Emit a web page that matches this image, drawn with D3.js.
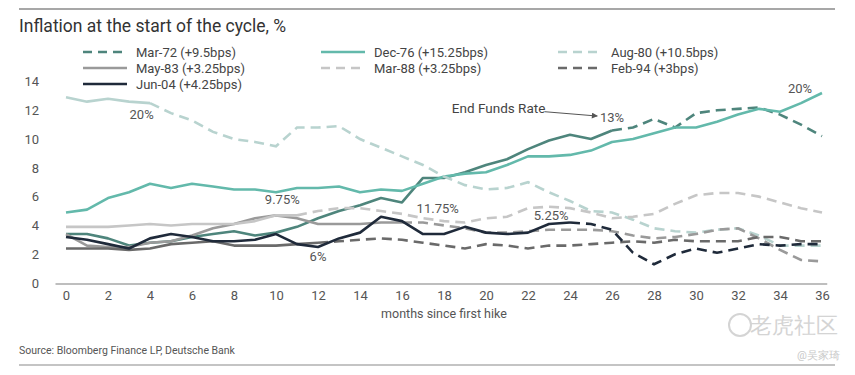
<!DOCTYPE html>
<html>
<head>
<meta charset="utf-8">
<script src="https://cdn.jsdelivr.net/npm/d3@7"></script>
<style>
  body { margin: 0; background: #fff; }
  text { font-family: Roboto, "Noto Sans", sans-serif; }
</style>
</head>
<body>
<svg id="chart" width="855" height="375"></svg>
<script>
const svg = d3.select("#chart");
const width = +svg.attr("width");
const height = +svg.attr("height");

// Data (months since first hike, CPI % y/y)
const months = d3.range(0, 37);
const seriesNames = ["Mar-72 (+9.5bps)", "Dec-76 (+15.25bps)", "Aug-80 (+10.5bps)",
  "May-83 (+3.25bps)", "Mar-88 (+3.25bps)", "Feb-94 (+3bps)", "Jun-04 (+4.25bps)"];
const seriesColors = ["#4e857c", "#63b9ab", "#b8d3cf", "#9a9a9a", "#c6c6c6", "#6a6a6a", "#1f2a3a"];
// month where hiking stopped: solid before, dashed after
const cycleEnd = [26, 36, 4, 16, 11, 12, 24];

const mar72 = [3.4, 3.4, 3.1, 2.6, 2.8, 2.9, 3.2, 3.4, 3.6, 3.3, 3.5, 3.9, 4.5, 5.0, 5.4, 5.9, 5.6, 7.3, 7.3,
  7.7, 8.2, 8.6, 9.3, 9.9, 10.3, 10.0, 10.6, 10.8, 11.4, 10.8, 11.8, 12.0, 12.1, 12.2, 11.7, 11.0, 10.2];
const dec76 = [4.9, 5.1, 5.9, 6.3, 6.9, 6.6, 6.9, 6.7, 6.5, 6.5, 6.3, 6.6, 6.6, 6.7, 6.3, 6.5, 6.4, 6.9, 7.4,
  7.6, 7.7, 8.2, 8.8, 8.8, 8.9, 9.2, 9.8, 10.0, 10.4, 10.8, 10.8, 11.2, 11.7, 12.1, 11.9, 12.5, 13.2];
const aug80 = [12.9, 12.6, 12.8, 12.6, 12.5, 11.8, 11.3, 10.5, 10.0, 9.8, 9.5, 10.8, 10.8, 10.9, 10.0, 9.4, 8.8, 8.2, 7.4,
  6.8, 6.5, 6.6, 7.0, 6.3, 5.7, 5.0, 4.9, 4.4, 3.8, 3.6, 3.5, 3.7, 3.8, 3.3, 2.6, 2.6, 2.6];
const may83 = [3.4, 2.6, 2.5, 2.5, 2.8, 2.9, 3.3, 3.8, 4.1, 4.5, 4.7, 4.5, 4.1, 4.1, 4.1, 4.2, 4.2, 4.2, 4.0,
  3.8, 3.5, 3.5, 3.6, 3.7, 3.7, 3.7, 3.6, 3.3, 3.1, 3.2, 3.4, 3.7, 3.8, 3.1, 2.3, 1.6, 1.5];
const mar88 = [3.9, 3.9, 3.9, 4.0, 4.1, 4.0, 4.1, 4.1, 4.1, 4.3, 4.7, 4.7, 5.0, 5.2, 5.2, 5.0, 4.8, 4.5, 4.3,
  4.2, 4.5, 4.6, 5.2, 5.3, 5.2, 4.9, 4.5, 4.6, 4.8, 5.5, 6.1, 6.25, 6.25, 6.0, 5.6, 5.2, 4.9];
const feb94 = [2.4, 2.4, 2.4, 2.3, 2.4, 2.7, 2.8, 2.9, 2.6, 2.6, 2.6, 2.7, 2.8, 2.9, 3.0, 3.1, 3.0, 2.8, 2.6,
  2.4, 2.7, 2.6, 2.4, 2.6, 2.6, 2.7, 2.8, 2.9, 2.8, 3.0, 2.9, 2.9, 2.9, 3.2, 3.2, 2.9, 2.9];
const jun04 = [3.2, 3.0, 2.7, 2.4, 3.1, 3.4, 3.2, 2.9, 2.9, 3.0, 3.4, 2.7, 2.5, 3.1, 3.5, 4.6, 4.3, 3.4, 3.4,
  3.9, 3.5, 3.4, 3.5, 4.1, 4.2, 4.1, 3.7, 2.1, 1.3, 2.0, 2.4, 2.1, 2.4, 2.7, 2.6, 2.7, 2.7];
const seriesValues = [mar72, dec76, aug80, may83, mar88, feb94, jun04];

const xTicks = d3.range(0, 37, 2);
const yTicks = d3.range(0, 15, 2);

// end funds rate labels: [text, month, value]
const annotations = [
  ["20%", 3.6, 11.4],
  ["9.75%", 10.3, 5.5],
  ["6%", 12.0, 1.5],
  ["11.75%", 17.7, 4.85],
  ["5.25%", 23.1, 4.4],
  ["13%", 26.0, 11.2],
  ["20%", 34.95, 13.2]
];

// Settings
const margin = { top: 81.5, bottom: 92, left: 66, right: 33 };
const xScale = d3.scaleLinear().domain([0, 36]).range([margin.left, width - margin.right]);
const yScale = d3.scaleLinear().domain([0, 14]).range([height - margin.bottom, margin.top]);

// Header rule + title
svg.append("line").attr("x1", 19).attr("x2", 835).attr("y1", 9).attr("y2", 9)
  .attr("stroke", "#8a8a8a").attr("stroke-width", 1.5);
svg.append("text").attr("x", 19).attr("y", 32)
  .attr("font-size", "17.5px").attr("fill", "#333")
  .text("Inflation at the start of the cycle, %");

// Axes
const xAxisG = svg.append("g")
  .attr("transform", `translate(0,${yScale(0) + 1})`)
  .call(d3.axisBottom(xScale).tickValues(xTicks).tickSize(0).tickPadding(7));
xAxisG.select(".domain").attr("d", `M${xScale(-0.5)},0H${xScale(36.25)}`)
  .attr("stroke", "#a8a8a8").attr("stroke-width", 1.3);
xAxisG.selectAll("text").attr("font-size", "13px").attr("fill", "#555")
  .attr("font-family", "Roboto, sans-serif");

const yAxisG = svg.append("g")
  .attr("transform", `translate(39,0)`)
  .call(d3.axisLeft(yScale).tickValues(yTicks).tickSize(0).tickPadding(0));
yAxisG.select(".domain").remove();
yAxisG.selectAll("text").attr("font-size", "13px").attr("fill", "#555")
  .attr("font-family", "Roboto, sans-serif");

svg.append("text").attr("x", xScale(18)).attr("y", 318)
  .attr("text-anchor", "middle").attr("font-size", "12.5px").attr("fill", "#555")
  .text("months since first hike");

// Lines
const line = d3.line()
  .x((d) => xScale(d[0]))
  .y((d) => yScale(d[1]));

const plot = svg.append("g");
seriesValues.forEach((vals, i) => {
  const pts = months.map((m) => [m, vals[m]]);
  const end = cycleEnd[i];
  const solid = pts.filter((d) => d[0] <= end);
  const dashed = pts.filter((d) => d[0] >= end);
  plot.append("path").attr("d", line(solid))
    .attr("fill", "none").attr("stroke", seriesColors[i]).attr("stroke-width", 2.6)
    .attr("stroke-linejoin", "round");
  if (dashed.length > 1) {
    plot.append("path").attr("d", line(dashed))
      .attr("fill", "none").attr("stroke", seriesColors[i]).attr("stroke-width", 2.6)
      .attr("stroke-dasharray", "10,6");
  }
});

// Legend
const legendCols = [83, 321, 558];
const legendRows = [52, 68, 84];
const legendDashed = [true, false, true, false, true, true, false];
seriesNames.forEach((name, i) => {
  const lx = legendCols[i % 3];
  const ly = legendRows[Math.floor(i / 3)];
  svg.append("line").attr("x1", lx).attr("x2", lx + 44).attr("y1", ly).attr("y2", ly)
    .attr("stroke", seriesColors[i]).attr("stroke-width", 2.6)
    .attr("stroke-dasharray", legendDashed[i] ? "9,6" : null);
  svg.append("text").attr("x", lx + 53).attr("y", ly + 4.5)
    .attr("font-size", "13px").attr("fill", "#444").text(name);
});

// Annotations
annotations.forEach(([t, m, v]) => {
  svg.append("text").attr("x", xScale(m)).attr("y", yScale(v))
    .attr("text-anchor", "middle").attr("font-size", "13px").attr("fill", "#555").text(t);
});
svg.append("text").attr("x", xScale(20.6)).attr("y", yScale(11.8))
  .attr("text-anchor", "middle").attr("font-size", "13.5px").attr("fill", "#444")
  .text("End Funds Rate");
svg.append("defs").append("marker").attr("id", "arrow")
  .attr("viewBox", "0 0 10 10").attr("refX", 9).attr("refY", 5)
  .attr("markerWidth", 7).attr("markerHeight", 6).attr("orient", "auto")
  .append("path").attr("d", "M0,0L10,5L0,10Z").attr("fill", "#555");
svg.append("line")
  .attr("x1", xScale(22.8)).attr("y1", yScale(11.9))
  .attr("x2", xScale(25.3)).attr("y2", yScale(11.6))
  .attr("stroke", "#555").attr("stroke-width", 1).attr("marker-end", "url(#arrow)");

// Footer
svg.append("text").attr("x", 19).attr("y", 354)
  .attr("font-size", "10.5px").attr("fill", "#555")
  .attr("font-family", "'Liberation Sans Narrow', 'Roboto', sans-serif")
  .text("Source: Bloomberg Finance LP, Deutsche Bank");
svg.append("line").attr("x1", 19).attr("x2", 835).attr("y1", 365).attr("y2", 365)
  .attr("stroke", "#8a8a8a").attr("stroke-width", 1.2);

// Watermark
svg.append("text").attr("x", 838).attr("y", 333).attr("text-anchor", "end")
  .attr("font-size", "22px").attr("fill", "#d4d4d4")
  .attr("font-family", "'Noto Sans CJK SC', sans-serif").text("老虎社区");
svg.append("circle").attr("cx", 740).attr("cy", 325).attr("r", 11)
  .attr("fill", "none").attr("stroke", "#d4d4d4").attr("stroke-width", 2);
svg.append("text").attr("x", 840).attr("y", 359).attr("text-anchor", "end")
  .attr("font-size", "11px").attr("fill", "#c8c8c8")
  .attr("font-family", "'Noto Sans CJK SC', sans-serif").text("@吴家琦");
</script>
</body>
</html>
